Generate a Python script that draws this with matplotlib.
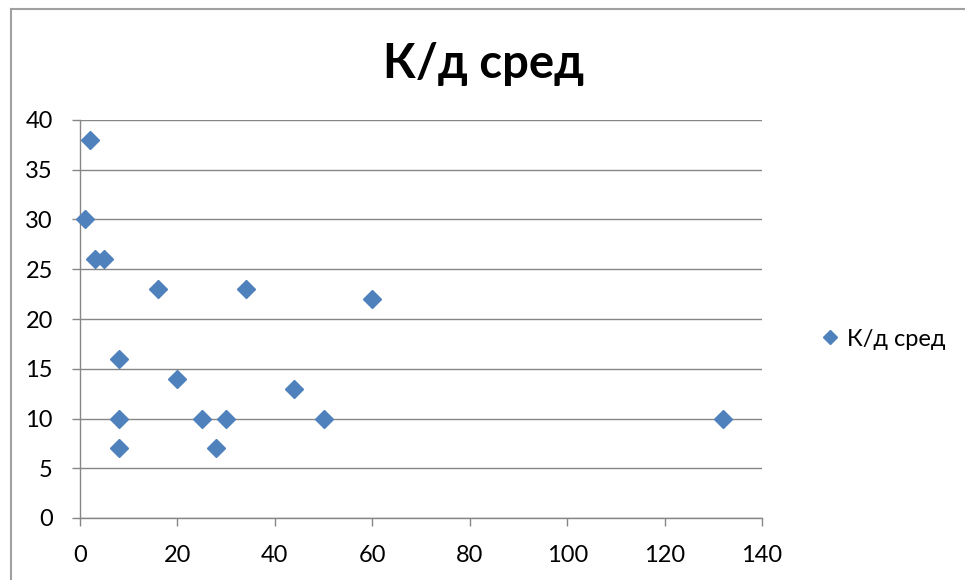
import matplotlib.pyplot as plt

plt.rcParams['font.family'] = ['Lato', 'Noto Sans', 'DejaVu Sans']

# days vs. average K/d
x_vals = [1, 2, 3, 5, 8, 8, 8, 16, 20, 25, 28, 30, 34, 44, 50, 60, 132]
y_vals = [30, 38, 26, 26, 16, 10, 7, 23, 14, 10, 7, 10, 23, 13, 10, 22, 10]
series_name = "К/д сред"
x_ticks = [0, 20, 40, 60, 80, 100, 120, 140]
y_ticks = [0, 5, 10, 15, 20, 25, 30, 35, 40]

GRID = "#868686"
BLUE = "#4F81BD"

fig = plt.figure(figsize=(9.65, 5.8), dpi=100)

# outer chart frame (only the left and top edges are in view)
fig.add_artist(plt.Line2D([11 / 965, 11 / 965], [0, 1 - 9 / 580],
                          transform=fig.transFigure, color="#A0A0A0", lw=1.5))
fig.add_artist(plt.Line2D([11 / 965, 1], [1 - 9 / 580, 1 - 9 / 580],
                          transform=fig.transFigure, color="#A0A0A0", lw=1.5))

ax = fig.add_axes([80 / 965, 62 / 580, 682 / 965, 398 / 580])
ax.plot(x_vals, y_vals, linestyle="none", marker="D", markersize=9.5,
        color=BLUE, label=series_name, clip_on=False, zorder=3)

ax.set_xlim(0, 140)
ax.set_ylim(0, 40)
ax.set_xticks(x_ticks)
ax.set_yticks(y_ticks)
ax.yaxis.grid(True, color=GRID, lw=1)
ax.set_axisbelow(True)

for side in ["top", "right"]:
    ax.spines[side].set_visible(False)
for side in ["left", "bottom"]:
    ax.spines[side].set_color(GRID)
    ax.spines[side].set_linewidth(1)

ax.tick_params(axis="both", colors=GRID, labelcolor="black", labelsize=17,
               length=6, width=1, direction="out", pad=13.5)

fig.text(484 / 965, 1 - 64 / 580, series_name, ha="center", va="center",
         fontsize=34, fontweight="bold")

fig.legend(loc="center left", bbox_to_anchor=(818 / 965, 1 - 339 / 580),
           frameon=False, fontsize=17, handlelength=1, handletextpad=0.22,
           borderpad=0, borderaxespad=0, markerscale=0.8)

fig.savefig("out.png", dpi=100)
